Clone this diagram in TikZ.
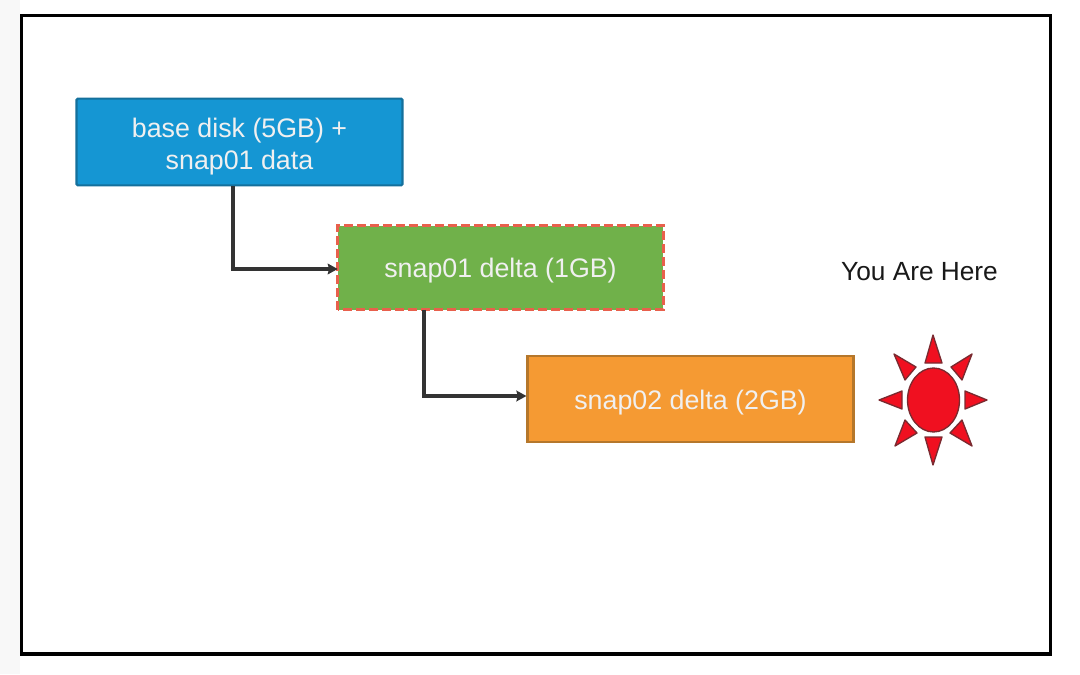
\documentclass[tikz,border=0pt]{standalone}
\usepackage{fontspec}
\setmainfont{Liberation Sans}
\usetikzlibrary{arrows.meta}
\definecolor{bluefill}{HTML}{1596D3}
\definecolor{blueedge}{HTML}{14709C}
\definecolor{greenfill}{HTML}{70B14A}
\definecolor{orangefill}{HTML}{F59A33}
\definecolor{orangeedge}{HTML}{B5772B}
\definecolor{dashred}{HTML}{E8604C}
\definecolor{wire}{HTML}{333333}
\definecolor{sunred}{HTML}{F01020}
\definecolor{sunedge}{HTML}{7A2A30}
\definecolor{strip}{HTML}{F8F8F8}
\tikzset{
  disk/.style={minimum width=244.5pt,minimum height=64.5pt,inner sep=0pt,align=center,
     text=white!94!black,font=\fontsize{20.1pt}{24pt}\selectfont,anchor=center},
  wirearrow/.style={draw=wire,line width=2.4pt,-{Stealth[length=7.5pt,width=8pt,inset=1pt]}},
  ray/.style={fill=sunred,draw=sunedge,line width=1pt,line join=round},
}
\begin{document}
\begin{tikzpicture}[x=0.75pt,y=-0.75pt]
\useasboundingbox (0,0) rectangle (1080,674);
\fill[white] (0,0) rectangle (1080,674);
\fill[strip] (0,0) rectangle (20,674);
% frame
\fill[black] (20,14) rectangle (1052,656);
\fill[white] (22.5,17) rectangle (1049,652);
% boxes
\node[disk,fill=bluefill,draw=blueedge,line width=1.6pt,rounded corners=1pt,minimum height=65pt,text height=41.25pt,text depth=0pt] (base) at (239.5,142) {base disk (5GB) +\\snap01 data};
\node[disk,fill=greenfill,minimum width=243.75pt,minimum height=63pt,text height=15pt,text depth=0pt] (snapa) at (500.5,267.5) {snap01 delta (1GB)};
\draw[dashred,line width=2pt,dash pattern=on 6.75pt off 3pt] (snapa.south west) rectangle (snapa.north east);
\node[disk,fill=orangefill,draw=orangeedge,line width=1.6pt,text height=16.2pt,text depth=0pt] (snapb) at (690.5,399) {snap02 delta (2GB)};
% connectors
\draw[wirearrow] ([xshift=-4.875pt]base.south) |- ([yshift=-1.125pt]snapa.west);
\draw[wirearrow] ([xshift=-57.4pt]snapa.south) |- ([yshift=2.25pt]snapb.west);
% label
\node[font=\fontsize{19.7pt}{24pt}\selectfont,text=black!90,inner sep=0pt] (here) at (919.5,272) {You Are Here};
% sun
\fill[sunred,draw=sunedge,line width=1pt] (933.5,400) ellipse [x radius=26, y radius=32];
\draw[ray] (933,335) -- (942,363) -- (925,363) -- cycle;
\draw[ray] (933,465) -- (942,437) -- (925,437) -- cycle;
\draw[ray] (879,400) -- (902,391) -- (902,409) -- cycle;
\draw[ray] (987,400) -- (965,391) -- (965,409) -- cycle;
\draw[ray] (894,354) -- (916,367) -- (905,380) -- cycle;
\draw[ray] (972,354) -- (951,367) -- (962,380) -- cycle;
\draw[ray] (895,446) -- (905,420) -- (917,433) -- cycle;
\draw[ray] (972,446) -- (962,420) -- (950,433) -- cycle;
\end{tikzpicture}
\end{document}
